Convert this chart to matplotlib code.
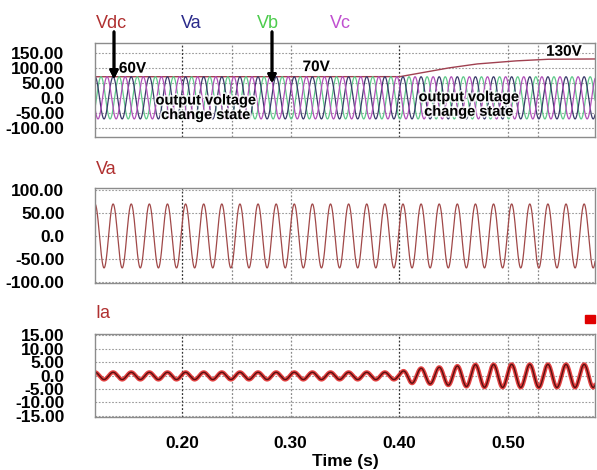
import numpy as np
import matplotlib.pyplot as plt
import matplotlib.patheffects as pe

plt.rcParams['font.family'] = ['Liberation Sans', 'DejaVu Sans']

# ========== DONNÉES ==========
t_debut, t_fin = 0.12, 0.58
freq = 60.0                 # Hz
t_crete = 0.12              # instant d'une crête de Va
amp_phase = 70.0            # amplitude Va / Vb / Vc (panneau du haut)
amp_va = 70.0               # amplitude Va (panneau du milieu)

vdc_t = [0.12, 0.40, 0.443, 0.47, 0.504, 0.535, 0.58]
vdc_v = [70.0, 70.0, 98.0, 112.0, 122.0, 128.0, 129.0]

ia_t = [0.12, 0.40, 0.41, 0.425, 0.45, 0.47, 0.50, 0.58]
ia_amp = [1.35, 1.35, 2.7, 2.9, 3.6, 4.2, 4.3, 4.3]
ia_decalage = -0.15

xticks = [0.20, 0.30, 0.40, 0.50]
xgrille = [0.20, 0.246, 0.30, 0.40, 0.50, 0.528]
yticks_v = [150, 100, 50, 0, -50, -100]
yticks_va = [100, 50, 0, -50, -100]
yticks_ia = [15, 10, 5, 0, -5, -10, -15]

# ========== SIGNAUX ==========
t = np.linspace(t_debut, t_fin, 6000)
theta = 2 * np.pi * freq * (t - t_crete)
va = amp_phase * np.cos(theta)
vb = amp_phase * np.cos(theta - 2 * np.pi / 3)
vc = amp_phase * np.cos(theta + 2 * np.pi / 3)
vdc = np.interp(t, vdc_t, vdc_v)
va2 = amp_va * np.cos(theta)
ia = ia_decalage + np.interp(t, ia_t, ia_amp) * np.cos(theta)

# ========== FIGURE ==========
fig = plt.figure(figsize=(5.97, 4.70), dpi=100)
W, H = 597, 470

def axe(gauche, haut, droite, bas):
    return fig.add_axes([gauche / W, 1 - bas / H, (droite - gauche) / W, (bas - haut) / H])

ax1 = axe(95, 43, 595, 137)
ax2 = axe(95, 188, 595, 283)
ax3 = axe(95, 334, 595, 417)

police_ticks = dict(fontsize=12.5, fontweight='bold')

for ax, yt, ylim in [(ax1, yticks_v, (-130, 182)),
                     (ax2, yticks_va, (-103, 105)),
                     (ax3, yticks_ia, (-15.5, 15.5))]:
    ax.set_xlim(t_debut, t_fin)
    ax.set_ylim(*ylim)
    ax.set_yticks(yt)
    ax.set_yticklabels(['0.0' if v == 0 else f'{v:.2f}' for v in yt], **police_ticks)
    ax.tick_params(length=0, pad=22)
    for y in yt:
        ax.axhline(y, color='#9a9a9a', ls=(0, (1.5, 1.5)), lw=0.8, zorder=0)
    for x in xgrille:
        c = '#333333' if x in (0.20, 0.40) else '#8a8a8a'
        ax.axvline(x, color=c, ls=(0, (1.5, 1.5)), lw=0.9, zorder=0)
    for s in ax.spines.values():
        s.set_color('#8c8c8c')
        s.set_linewidth(1.0)
    ax.set_xticks(xticks)
    ax.set_xticklabels([])

# --- panneau du haut ---
ax1.plot(t, vdc, color='#a04050', lw=1.0, zorder=1)
ax1.plot(t, vb, color='#5fc98a', lw=0.9, zorder=2)
ax1.plot(t, va, color='#3a3a6a', lw=0.9, zorder=2)
ax1.plot(t, vc, color='#b050b8', lw=0.9, zorder=2)

halo = [pe.withStroke(linewidth=2.5, foreground='white', alpha=0.8)]
ax1.text(0.142, 97, '60V', fontsize=11, fontweight='bold', va='center', path_effects=halo)
ax1.text(0.311, 102, '70V', fontsize=11, fontweight='bold', va='center', path_effects=halo)
ax1.text(0.535, 153, '130V', fontsize=11, fontweight='bold', va='center', path_effects=halo)
ax1.text(0.222, -33, 'output voltage\nchange state', fontsize=10.5, fontweight='bold',
         ha='center', va='center', linespacing=1.05, path_effects=halo, zorder=5)
ax1.text(0.464, -22, 'output voltage\nchange state', fontsize=10.5, fontweight='bold',
         ha='center', va='center', linespacing=1.05, path_effects=halo, zorder=5)

# étiquettes de courbes
for txt, x, c in [('Vdc', 111, '#b03030'), ('Va', 191, '#2a2a8a'),
                  ('Vb', 268, '#4ccc4c'), ('Vc', 340, '#c050d0')]:
    fig.text(x / W, 1 - 23 / H, txt, color=c, fontsize=13, ha='center', va='center')

# flèches
for x, y0, y1 in [(114, 29, 82), (272, 29, 86)]:
    fig.add_artist(plt.annotate('', xy=(x / W, 1 - y1 / H), xytext=(x / W, 1 - y0 / H),
                                xycoords='figure fraction', textcoords='figure fraction',
                                arrowprops=dict(arrowstyle='-|>', color='black', lw=2.0,
                                                mutation_scale=12)))

# --- panneau du milieu ---
ax2.plot(t, va2, color='#a04848', lw=0.9)
fig.text(106 / W, 1 - 169 / H, 'Va', color='#b03030', fontsize=13, ha='center', va='center')

# --- panneau du bas ---
ax3.plot(t, ia, color='#e02020', lw=3.0, alpha=0.85)
ax3.plot(t, ia, color='#5a1010', lw=1.0)
fig.text(103 / W, 1 - 314 / H, 'Ia', color='#b03030', fontsize=13, ha='center', va='center')
fig.patches.append(plt.Rectangle((585 / W, 1 - 323 / H), 10 / W, 8 / H,
                                 transform=fig.transFigure, color='#e00000'))

ax3.set_xticklabels([f'{x:.2f}' for x in xticks], **police_ticks)
ax3.tick_params(axis='x', pad=14)
ax3.set_xlabel('Time (s)', fontsize=12.5, fontweight='bold', labelpad=2)

fig.savefig('out.png', dpi=100)
